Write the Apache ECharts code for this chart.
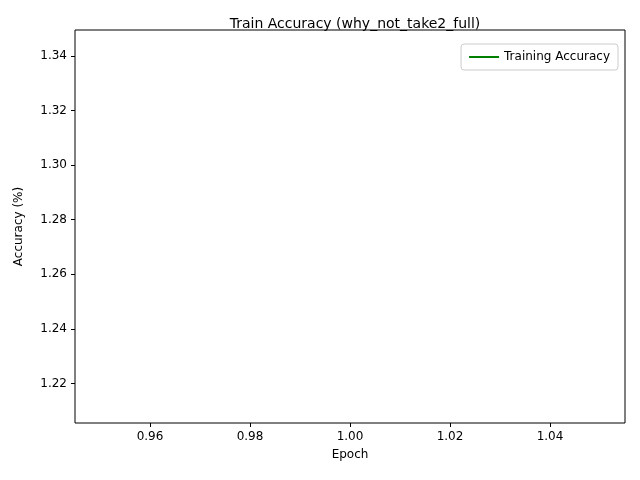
<!DOCTYPE html>
<html><head><meta charset="utf-8">
<script src="https://cdn.jsdelivr.net/npm/echarts@6/dist/echarts.min.js"></script>
<style>html,body{margin:0;padding:0;background:#fff}#c{width:640px;height:480px}</style>
</head><body><div id="c"></div>
<script>
const epochs = [1];
const trainAcc = [1.2773];
const xTicks = [0.96, 0.98, 1.00, 1.02, 1.04];
const yTicks = [1.22, 1.24, 1.26, 1.28, 1.30, 1.32, 1.34];
const chart = echarts.init(document.getElementById('c'));
const font = 'DejaVu Sans';
chart.setOption({
  animation: false,
  title: {text: 'Train Accuracy (why_not_take2_full)', left: 350, top: 12, textAlign: 'center',
    textStyle: {fontFamily: font, fontSize: 14, fontWeight: 'normal', color: '#000'}},
  grid: {left: 75, right: 15, top: 30, bottom: 57, show: true, borderColor: '#000', borderWidth: 1},
  legend: {right: 22, top: 44, itemWidth: 30, itemHeight: 2, padding: [7, 8],
    borderColor: '#ccc', borderWidth: 1, borderRadius: 3, icon: 'rect',
    textStyle: {fontFamily: font, fontSize: 12, color: '#000'}, data: ['Training Accuracy']},
  xAxis: {type: 'value', min: 0.945, max: 1.055, name: 'Epoch', nameLocation: 'middle', nameGap: 26,
    nameTextStyle: {fontFamily: font, fontSize: 12, color: '#000'},
    splitLine: {show: false}, axisLine: {show: false},
    axisTick: {show: true, customValues: xTicks, length: 4, lineStyle: {color: '#000'}},
    axisLabel: {customValues: xTicks, fontFamily: font, fontSize: 12, color: '#000', formatter: v => v.toFixed(2)}},
  yAxis: {type: 'value', min: 1.2055, max: 1.3495, name: 'Accuracy (%)', nameLocation: 'middle', nameGap: 50,
    nameTextStyle: {fontFamily: font, fontSize: 12, color: '#000'},
    splitLine: {show: false}, axisLine: {show: false},
    axisTick: {show: true, customValues: yTicks, length: 4, lineStyle: {color: '#000'}},
    axisLabel: {customValues: yTicks, fontFamily: font, fontSize: 12, color: '#000', formatter: v => v.toFixed(2)}},
  series: [{name: 'Training Accuracy', type: 'line', showSymbol: false, color: 'green',
    lineStyle: {color: 'green', width: 1.5}, data: epochs.map((e, i) => [e, trainAcc[i]])}]
});
</script></body></html>
